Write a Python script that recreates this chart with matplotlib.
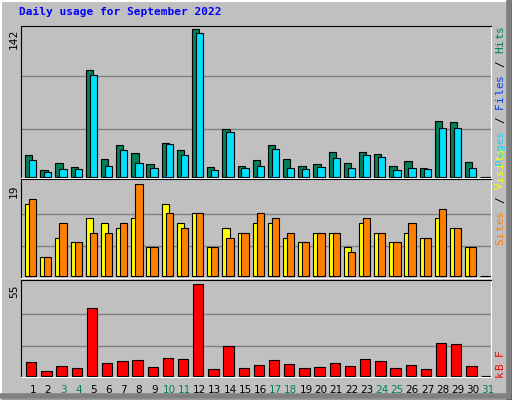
import matplotlib
matplotlib.use("Agg")
import matplotlib.pyplot as plt
from matplotlib.lines import Line2D

days = list(range(1, 32))
hits  = [21, 6.5, 13, 10, 103, 17, 31, 23, 12, 33, 26, 142, 10, 46, 11, 16, 31, 17, 11, 12, 24, 13, 24, 22, 11, 15, 9, 54, 53, 14, 0]
pages = [16, 4.5, 8, 8, 98, 11, 26, 13, 9, 32, 21, 138, 7, 43, 9, 11, 27, 9, 8, 10, 18, 9, 21, 19, 7, 9, 8, 47, 47, 9, 0]
files = [0, 0, 0, 0, 0, 0, 0, 0, 0, 1, 1, 0, 0, 0, 0, 0, 1, 0, 0, 0, 0, 0, 0, 0, 0, 0, 0, 0, 0, 0, 0]
visits = [15, 4, 8, 7, 12, 11, 10, 12, 6, 15, 11, 13, 6, 10, 9, 11, 11, 8, 7, 9, 9, 6, 11, 9, 7, 9, 8, 12, 10, 6, 0]
sites  = [16, 4, 11, 7, 9, 9, 11, 19, 6, 13, 10, 13, 6, 8, 9, 13, 12, 9, 7, 9, 9, 5, 12, 9, 7, 11, 8, 14, 10, 6, 0]
kbytes = [8, 2.6, 5.6, 4.4, 40.6, 7.4, 8.6, 9.2, 5, 10.4, 9.8, 55, 3.8, 17.7, 4.4, 6.2, 9.2, 6.8, 4.4, 5, 7.4, 5.6, 9.8, 8.6, 4.4, 6.2, 3.8, 19.5, 18.9, 5.6, 0]
weekend = [3, 4, 10, 11, 17, 18, 24, 25, 31]
title = "Daily usage for September 2022"

W, H = 512, 400
BG = "#C0C0C0"
fig = plt.figure(figsize=(W/100, H/100), dpi=100, facecolor=BG)
mono = "DejaVu Sans Mono"

def fx(x): return x / W
def fy(y): return 1 - y / H

# outer 3D border
fig.add_artist(Line2D([fx(0.5), fx(511.5)], [fy(0.5), fy(0.5)], color="white", lw=1.5))
fig.add_artist(Line2D([fx(0.5), fx(0.5)], [fy(0.5), fy(399.5)], color="white", lw=1.5))
fig.add_artist(Line2D([fx(0.5), fx(511.5)], [fy(396), fy(396)], color="#808080", lw=4))
fig.add_artist(Line2D([fx(509), fx(509)], [fy(0.5), fy(399.5)], color="#808080", lw=4))
fig.add_artist(Line2D([fx(0), fx(512)], [fy(399.5), fy(399.5)], color="black", lw=1))
fig.add_artist(Line2D([fx(511.5), fx(511.5)], [fy(0), fy(400)], color="black", lw=1))

fig.text(fx(19), fy(12), title, color="#0000FF", fontsize=8, fontweight="bold",
         family=mono, va="center", ha="left")

X0, X1 = 20.5, 491
xlim = (0.19, 31.19)

def make_ax(top, bot, ylo, yhi, ymax):
    ax = fig.add_axes([fx(X0), fy(bot), fx(X1) - fx(X0), fy(top) - fy(bot)])
    ax.set_facecolor(BG)
    ax.set_xlim(*xlim)
    ax.set_ylim(ylo, yhi)
    for g in (0.325, 0.68):
        ax.axhline(ymax * g, color="#808080", lw=1, zorder=0)
    ax.set_xticks([]); ax.set_yticks([])
    for s in ("top", "left"):
        ax.spines[s].set_color("black")
    for s in ("bottom", "right"):
        ax.spines[s].set_color("white")
    return ax

bw = 0.48
ax1 = make_ax(26, 178, -0.97, 142 + 2.9, 142)
ax1.bar([d - 0.27 for d in days], hits, width=bw, color="#00805C", edgecolor="black", lw=0.8)
ax1.bar([d - 0.01 for d in days], pages, width=bw, color="#00E0FF", edgecolor="black", lw=0.8)
ax1.bar([d - 0.2 for d in days], files, width=0.1, color="#0040FF", lw=0)

ax2 = make_ax(179, 278, -0.35, 20.1, 19)
ax2.bar([d - 0.27 for d in days], visits, width=bw, color="#FFFF00", edgecolor="black", lw=0.8)
ax2.bar([d - 0.01 for d in days], sites, width=bw, color="#FF8000", edgecolor="black", lw=0.8)

ax3 = make_ax(280, 377, -0.8, 57.6, 55)
ax3.bar([d - 0.1 for d in days], kbytes, width=0.68, color="#FF0000", edgecolor="black", lw=0.8)

for d in days:
    ax3.text(d, -8.5, str(d), ha="center", va="center", fontsize=7.5,
             color="#00805C" if d in weekend else "black", clip_on=False)

for y, s in ((29, "142"), (184, "19"), (284, "55")):
    fig.text(fx(14), fy(y), s, rotation=90, ha="center", va="top", fontsize=8, family=mono)

def vlegend(parts, ybottom, step=7.0):
    y = ybottom - step / 2
    for s, c in parts:
        for ch in s:
            if ch != " ":
                fig.text(fx(500), fy(y), ch, rotation=90, ha="center", va="center",
                         fontsize=8, family=mono, color=c)
            y -= step

vlegend([("Pages", "#00E0FF"), (" / ", "black"), ("Files", "#0040FF"), (" / ", "black"), ("Hits", "#00805C")], 165)
vlegend([("Sites", "#FF8000"), (" / ", "black"), ("Visits", "#FFFF00")], 245)
vlegend([("kB F", "#FF0000")], 377)

fig.savefig("out.png", dpi=100, facecolor=BG)
